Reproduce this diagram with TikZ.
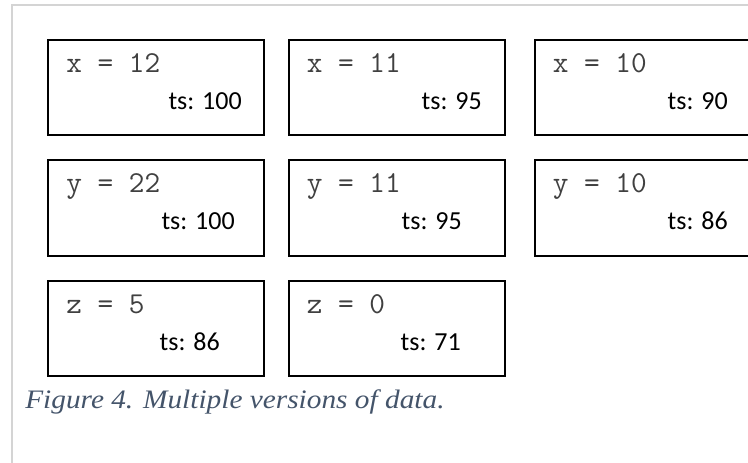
\documentclass[tikz,border=0pt]{standalone}
\usepackage{fontspec}
\usepackage{xcolor}
\newfontfamily\tsfont{Carlito}
\newfontfamily\capfont[FakeStretch=1.1]{Liberation Serif}
\definecolor{captxt}{HTML}{44546A}
\definecolor{framegray}{HTML}{D4D4D4}
\usetikzlibrary{positioning}

\begin{document}
\begin{tikzpicture}[x=0.75pt, y=-0.75pt,
  ver/.style={draw=black, line width=1.5pt, minimum width=162pt, minimum height=71.25pt,
              inner sep=0pt, anchor=north west},
  val/.style={anchor=base west, inner sep=0pt, text=black!75,
              font=\ttfamily\fontsize{22.8}{26}\selectfont},
  ts/.style={anchor=base east, inner sep=0pt, font=\tsfont\fontsize{19.5}{23}\selectfont}
]
\useasboundingbox (0,0) rectangle (748,463);
\draw[framegray, line width=1.5pt] (11.5,463) -- (11.5,5.5) -- (748,5.5);

% x versions
\node[ver] (x1) at (47,39.5) {};
\node[ver] (x2) at (287.5,39.5) {};
\node[ver] (x3) at (533.5,39.5) {};
\node[val] (x1v) at (66,73) {x = 12};
\node[val] (x2v) at (306.5,73) {x = 11};
\node[val] (x3v) at (552.5,73) {x = 10};
\node[ts] (x1t) at (242,110) {ts: 100};
\node[ts] (x2t) at (482,110) {ts: 95};
\node[ts] (x3t) at (728,110) {ts: 90};

% y versions
\node[ver] (y1) at (47,159.5) {};
\node[ver] (y2) at (287.5,159.5) {};
\node[ver] (y3) at (533.5,159.5) {};
\node[val] (y1v) at (66,192.5) {y = 22};
\node[val] (y2v) at (306.5,192.5) {y = 11};
\node[val] (y3v) at (552.5,192.5) {y = 10};
\node[ts] (y1t) at (235,229.5) {ts: 100};
\node[ts] (y2t) at (462,229.5) {ts: 95};
\node[ts] (y3t) at (728,229.5) {ts: 86};

% z versions
\node[ver] (z1) at (47,279.5) {};
\node[ver] (z2) at (287.5,279.5) {};
\node[val] (z1v) at (66,313) {z = 5};
\node[val] (z2v) at (306.5,313) {z = 0};
\node[ts] (z1t) at (220,350) {ts: 86};
\node[ts] (z2t) at (461,350) {ts: 71};

\node[anchor=base west, inner sep=0pt, text=captxt,
      font=\capfont\itshape\fontsize{20}{24}\selectfont] (cap) at (25,408)
  {Figure 4. Multiple versions of data.};
\end{tikzpicture}
\end{document}
